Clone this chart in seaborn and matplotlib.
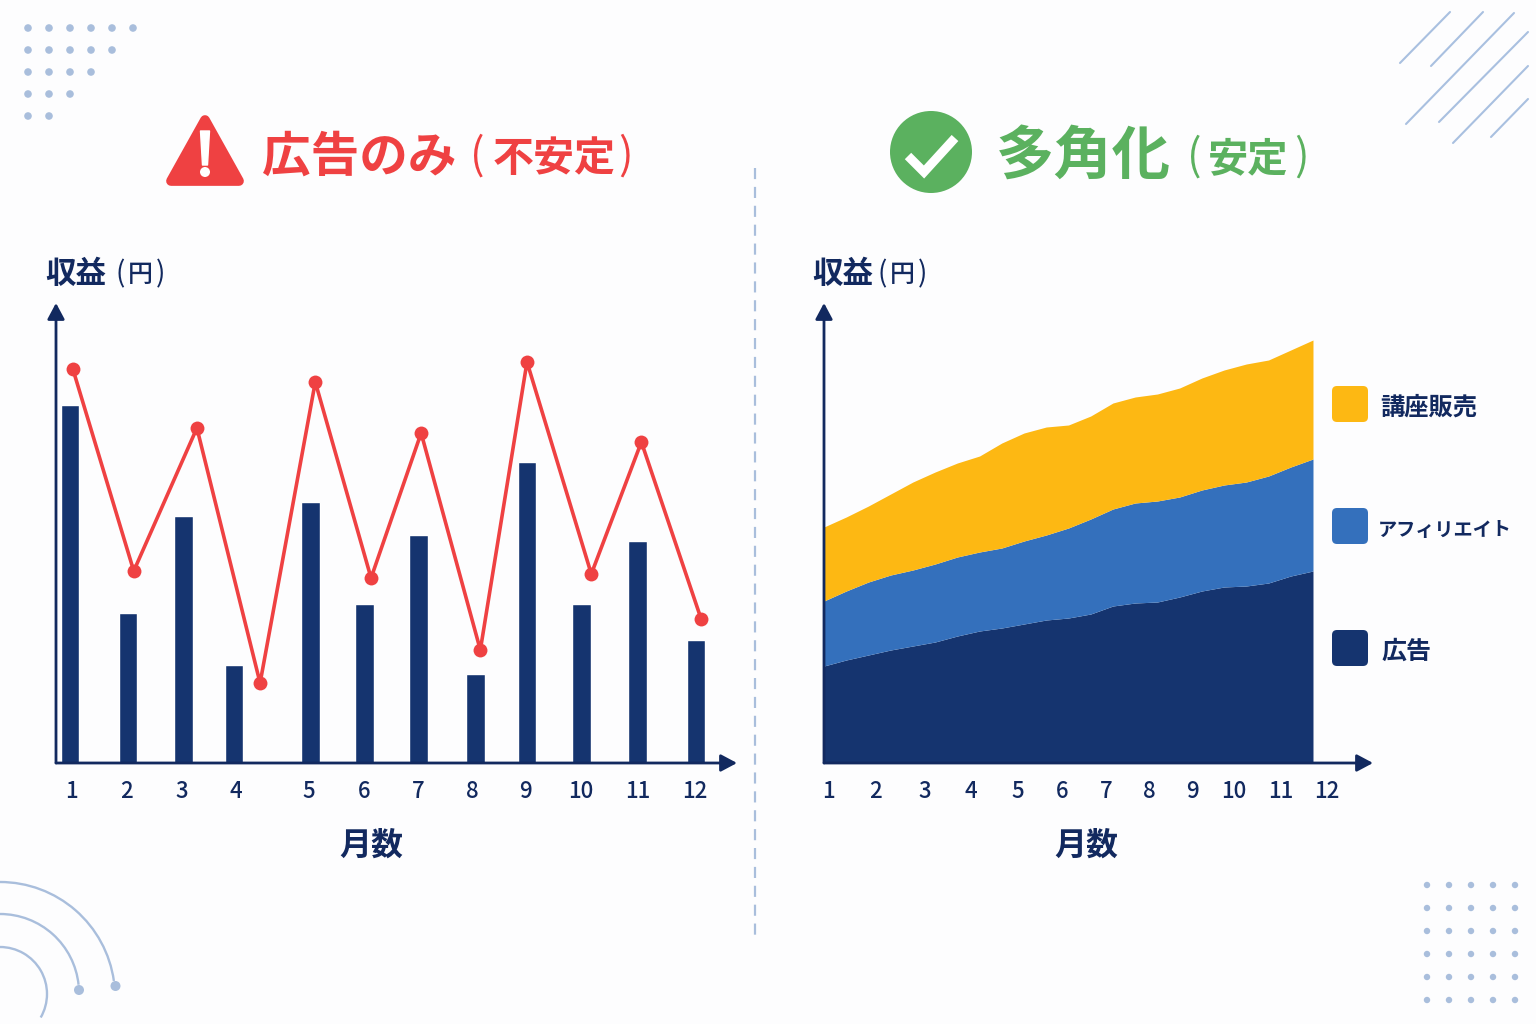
import numpy as np
import pandas as pd
import seaborn as sns
import matplotlib.pyplot as plt
from matplotlib.patches import Circle, FancyBboxPatch, Polygon, Arc

# left chart: ad income only
bar_month = [1.0, 2.02, 2.99, 3.88, 5.22, 6.18, 7.12, 8.12, 9.03, 9.99, 10.97, 12.0]
bar_income = [358, 150, 247, 98, 261, 159, 228, 89, 301, 159, 222, 123]
line_month = [1.05, 2.12, 3.23, 4.34, 5.31, 6.29, 7.17, 8.21, 9.03, 10.16, 11.04, 12.09]
line_income = [394, 192, 335, 80, 381, 185, 330, 113, 401, 189, 321, 144]
left_tick_pos = [1.02, 2.0, 2.97, 3.92, 5.2, 6.17, 7.12, 8.07, 9.0, 9.98, 10.98, 11.98]

# right chart: stacked income, every half month
area_month = [1 + i / 2 for i in range(23)]
ads = [97, 103, 108, 113, 117, 121, 127, 132, 135, 139, 143, 145, 149, 157, 160, 161, 166, 172, 176, 177, 180, 187, 192]
affiliate = [65, 69, 73, 75, 76, 78, 79, 79, 80, 83, 85, 90, 95, 97, 100, 101, 100, 101, 102, 104, 107, 109, 112]
courses = [74, 74, 76, 81, 88, 92, 94, 96, 105, 108, 108, 103, 103, 106, 106, 107, 109, 112, 115, 118, 116, 117, 119]
right_tick_pos = [1.09, 2.15, 3.27, 4.31, 5.36, 6.35, 7.34, 8.31, 9.28, 10.22, 11.28, 12.32]
month_labels = [str(m) for m in range(1, 13)]

NAVY = '#15346F'
BLUE = '#3470BC'
YELLOW = '#FDB813'
RED = '#EF4142'
GREEN = '#5BB15F'
INK = '#12295F'
DECOR = '#A9BEDC'
BG = '#FDFDFE'

sns.set_theme(style='white')
plt.rcParams['font.family'] = ['Noto Sans CJK JP', 'DejaVu Sans']

fig = plt.figure(figsize=(15.36, 10.24), dpi=100, facecolor=BG)

# overlay in picture pixels for decoration, titles and legend
bg = fig.add_axes([0, 0, 1, 1], zorder=0)
bg.set_xlim(0, 1536)
bg.set_ylim(1024, 0)
bg.axis('off')


def rect(x0, x1, y0, y1):
    return [x0 / 1536, (1024 - y1) / 1024, (x1 - x0) / 1536, (y1 - y0) / 1024]


def draw_axes(ax):
    ax.patch.set_alpha(0)
    sns.despine(ax=ax, left=True, bottom=True)
    ax.set_xlabel('')
    ax.set_ylabel('')
    ax.set_yticks([])
    arrow = dict(arrowstyle='-|>,head_length=0.75,head_width=0.4', color=INK, lw=2, shrinkA=0, shrinkB=0, mutation_scale=13)
    ax.annotate('', xy=(1, 0), xytext=(0, 0), xycoords='axes fraction', textcoords='axes fraction', arrowprops=arrow)
    ax.annotate('', xy=(0, 1), xytext=(0, 0), xycoords='axes fraction', textcoords='axes fraction', arrowprops=arrow)
    ax.tick_params(axis='x', length=0, pad=12, labelsize=16, labelcolor=INK)
    for lab in ax.get_xticklabels():
        lab.set_fontweight('medium')


# left chart
ax1 = fig.add_axes(rect(56, 737, 303, 763), zorder=2)
df1 = pd.DataFrame({'month': bar_month, 'income': bar_income})
sns.barplot(data=df1, x='month', y='income', native_scale=True, width=0.37, color=NAVY, saturation=1, ax=ax1)
df2 = pd.DataFrame({'month': line_month, 'income': line_income})
sns.lineplot(data=df2, x='month', y='income', color=RED, linewidth=2.6, marker='o', markersize=10,
             markeredgewidth=0, errorbar=None, ax=ax1)
ax1.set_xlim(0.754, 12.72)
ax1.set_ylim(0, 460)
ax1.set_xticks(left_tick_pos, month_labels)
draw_axes(ax1)

# right chart
ax2 = fig.add_axes(rect(824, 1373, 303, 763), zorder=2)
ax2.stackplot(area_month, ads, affiliate, courses, colors=[NAVY, BLUE, YELLOW], linewidth=0)
ax2.set_xlim(1, 13.35)
ax2.set_ylim(0, 460)
ax2.set_xticks(right_tick_pos, month_labels)
draw_axes(ax2)

# titles
bg.add_patch(Polygon([(205, 120), (171, 181), (239, 181)], closed=True, fc=RED, ec=RED, lw=7, joinstyle='round'))
bg.add_patch(Polygon([(200.5, 131), (209.5, 131), (207.5, 165), (202.5, 165)], closed=True, fc='white', ec='white', lw=1, joinstyle='round'))
bg.add_patch(Circle((205, 172), 5, fc='white', ec='none'))
bg.text(262, 157, '広告のみ', color=RED, fontsize=35, fontweight='bold', va='center', ha='left')
bg.text(470, 157, '(', color=RED, fontsize=31, va='center', ha='left')
bg.text(493, 159, '不安定', color=RED, fontsize=29.5, fontweight='bold', va='center', ha='left')
bg.text(618, 157, ')', color=RED, fontsize=31, va='center', ha='left')

bg.add_patch(Circle((931, 152), 41, fc=GREEN, ec='none'))
bg.plot([908, 924, 955], [156, 172, 138], color='white', lw=6.5, solid_joinstyle='miter', solid_capstyle='butt')
bg.text(996, 157, '多角化', color=GREEN, fontsize=42, fontweight='bold', va='center', ha='left')
bg.text(1187, 158, '(', color=GREEN, fontsize=31, va='center', ha='left')
bg.text(1208, 160, '安定', color=GREEN, fontsize=29, fontweight='bold', va='center', ha='left')
bg.text(1294, 158, ')', color=GREEN, fontsize=31, va='center', ha='left')

# axis captions
for x0, paren_x in ((45, 115), (812, 877)):
    bg.text(x0, 274, '収益', color=INK, fontsize=22, fontweight='bold', va='center', ha='left')
    bg.text(paren_x, 274, '(', color=INK, fontsize=20, va='center', ha='left')
    bg.text(paren_x + 13, 275, '円', color=INK, fontsize=18, fontweight='medium', va='center', ha='left')
    bg.text(paren_x + 41, 274, ')', color=INK, fontsize=20, va='center', ha='left')
bg.text(371, 846, '月数', color=INK, fontsize=23, fontweight='bold', va='center', ha='center')
bg.text(1086, 846, '月数', color=INK, fontsize=23, fontweight='bold', va='center', ha='center')

# legend
legend_rows = [(386, YELLOW, '講座販売', 1380, 17.5), (508, BLUE, 'アフィリエイト', 1378, 13.8), (630, NAVY, '広告', 1381, 18)]
for y0, col, label, tx, size in legend_rows:
    bg.add_patch(FancyBboxPatch((1336, y0 + 4), 28, 28, boxstyle='round,pad=4,rounding_size=5', fc=col, ec='none'))
    bg.text(tx, y0 + 22, label, color=INK, fontsize=size, fontweight='bold', va='center', ha='left')

# divider
bg.plot([755, 755], [168, 942], color=DECOR, lw=1.6, dashes=(5, 3.5))

# decoration: dots top left
xs = [28, 49, 70, 91, 112, 133]
for r, y in enumerate([28, 50, 72, 94, 116]):
    for x in xs[:6 - r]:
        bg.add_patch(Circle((x, y), 3.8, fc=DECOR, ec='none'))

# decoration: dots bottom right
for x in [1427, 1449, 1471, 1493, 1515]:
    for y in [885, 908, 931, 954, 977, 1000]:
        bg.add_patch(Circle((x, y), 3.2, fc=DECOR, ec='none'))

# decoration: diagonal lines top right
diag = [((1400, 63), (1450, 12)), ((1431, 66), (1483, 12)), ((1406, 124), (1514, 13)),
        ((1439, 122), (1528, 32)), ((1453, 143), (1528, 66)), ((1491, 137), (1528, 99))]
for (x0, y0), (x1, y1) in diag:
    bg.plot([x0, x1], [y0, y1], color='#A9C0E0', lw=1.5)

# decoration: arcs bottom left
for cy, r, t0, t1 in [(997, 115, -90, -8), (993, 79, -90, -6), (994, 47, -90, 30)]:
    bg.add_patch(Arc((0, cy), 2 * r, 2 * r, theta1=t0, theta2=t1, color=DECOR, lw=1.7))
bg.add_patch(Circle((115.5, 986), 5, fc=DECOR, ec='none'))
bg.add_patch(Circle((79, 990), 5, fc=DECOR, ec='none'))

fig.savefig('out.png', dpi=100, facecolor=BG)
